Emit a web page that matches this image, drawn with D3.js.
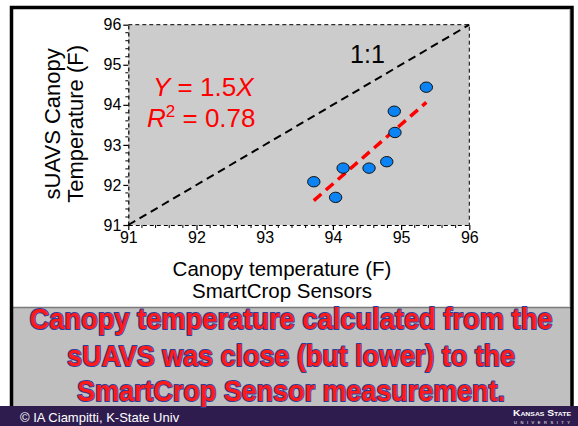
<!DOCTYPE html>
<html>
<head>
<meta charset="utf-8">
<script src="https://cdn.jsdelivr.net/npm/d3@7"></script>
<style>
  html, body { margin: 0; padding: 0; background: #fff; }
  svg { display: block; }
  text { font-family: Arial, "Liberation Sans", sans-serif; }
</style>
</head>
<body>
<div id="chart"></div>
<script>
// ---- Data ----
const sensorTemp = [93.72, 94.04, 94.15, 94.53, 94.79, 94.90, 94.91, 95.37];
const uavTemp    = [92.08, 91.69, 92.42, 92.42, 92.58, 93.84, 93.31, 94.44];
const fitX = [93.72, 95.37];
const fitY = [91.61, 94.06];
const oneToOne = [91, 96];
const xTicks = [91, 92, 93, 94, 95, 96];
const yTicks = [91, 92, 93, 94, 95, 96];
const yTitleLines = ["sUAVS Canopy", "Temperature (F)"];
const xTitleLines = ["Canopy temperature (F)", "SmartCrop Sensors"];
const r2Value = "0.78";
const oneToOneLabel = "1:1";
const messageLines = [
  "Canopy temperature calculated from the",
  "sUAVS was close (but lower) to the",
  "SmartCrop Sensor measurement."
];
const footerText = "\u00A9 IA Ciampitti, K-State Univ";

// ---- Layout ----
const W = 578, H = 426;
const svg = d3.select("#chart").append("svg").attr("width", W).attr("height", H);

svg.append("rect").attr("x", 0).attr("y", 0).attr("width", W).attr("height", H).attr("fill", "#fff");

// grey message band
svg.append("rect").attr("x", 12).attr("y", 307).attr("width", 560).attr("height", 99).attr("fill", "#c0c0c0");
svg.append("line").attr("x1", 12).attr("x2", 572).attr("y1", 307.5).attr("y2", 307.5).attr("stroke", "#7a7a7a").attr("stroke-width", 1.5);

// black frame
svg.append("path")
  .attr("d", "M11.5,406 L11.5,7.5 L572,7.5 L572,406")
  .attr("fill", "none").attr("stroke", "#000").attr("stroke-width", 3.5);
svg.append("line").attr("x1", 569.5).attr("x2", 569.5).attr("y1", 10).attr("y2", 306).attr("stroke", "#ccc").attr("stroke-width", 1);

// footer
svg.append("rect").attr("x", 0).attr("y", 406).attr("width", W).attr("height", 20).attr("fill", "#2f1c4e");
svg.append("text").attr("x", 20).attr("y", 421.5).attr("fill", "#fff").attr("font-size", 13).text(footerText);
const logo = svg.append("g").attr("fill", "#fff").attr("font-family", "'Liberation Serif', 'DejaVu Serif', serif");
logo.append("text").attr("x", 542).attr("y", 416).attr("text-anchor", "middle")
  .attr("font-size", 9).attr("font-weight", "bold")
  .attr("textLength", 58).attr("lengthAdjust", "spacingAndGlyphs")
  .style("font-variant", "small-caps").text("Kansas State");
logo.append("text").attr("x", 542).attr("y", 423.5).attr("text-anchor", "middle")
  .attr("font-size", 4).attr("textLength", 56).attr("lengthAdjust", "spacing")
  .attr("font-family", "Arial, sans-serif").text("UNIVERSITY");

// ---- Plot ----
const plot = { left: 128.3, right: 469.3, top: 24.7, bottom: 225 };
const x = d3.scaleLinear().domain([91, 96]).range([plot.left, plot.right]);
const y = d3.scaleLinear().domain([91, 96]).range([plot.bottom, plot.top]);

svg.append("rect")
  .attr("x", plot.left).attr("y", plot.top)
  .attr("width", plot.right - plot.left).attr("height", plot.bottom - plot.top)
  .attr("fill", "#cccccc");

svg.append("path")
  .attr("d", `M${plot.left},${plot.top} L${plot.right},${plot.top} L${plot.right},${plot.bottom}`)
  .attr("fill", "none").attr("stroke", "#000").attr("stroke-width", 1)
  .attr("stroke-dasharray", "4,3");

const minor = d3.range(91, 96.001, 0.2).filter(v => Math.abs(v - Math.round(v)) > 0.01);

const xAxisG = svg.append("g").attr("transform", `translate(0,${plot.bottom})`)
  .call(d3.axisBottom(x).tickValues(xTicks).tickFormat(d3.format("d")).tickSize(5).tickSizeOuter(0).tickPadding(2));
const yAxisG = svg.append("g").attr("transform", `translate(${plot.left},0)`)
  .call(d3.axisLeft(y).tickValues(yTicks).tickFormat(d3.format("d")).tickSize(5).tickSizeOuter(0).tickPadding(2));

[xAxisG, yAxisG].forEach(g => {
  g.select(".domain").attr("stroke", "#000").attr("stroke-width", 1.2).attr("stroke-dasharray", "4,3");
  g.selectAll(".tick line").attr("stroke", "#000").attr("stroke-width", 1.2);
  g.selectAll(".tick text").attr("font-size", 16).attr("fill", "#000").attr("font-family", "Arial, 'Liberation Sans', sans-serif");
});

svg.append("g").selectAll("line").data(minor).join("line")
  .attr("x1", d => x(d)).attr("x2", d => x(d))
  .attr("y1", plot.bottom).attr("y2", plot.bottom + 3)
  .attr("stroke", "#000").attr("stroke-width", 1);
svg.append("g").selectAll("line").data(minor).join("line")
  .attr("x1", plot.left - 3).attr("x2", plot.left)
  .attr("y1", d => y(d)).attr("y2", d => y(d))
  .attr("stroke", "#000").attr("stroke-width", 1);

// 1:1 line
svg.append("line")
  .attr("x1", x(oneToOne[0])).attr("y1", y(oneToOne[0]))
  .attr("x2", x(oneToOne[1])).attr("y2", y(oneToOne[1]))
  .attr("stroke", "#000").attr("stroke-width", 2).attr("stroke-dasharray", "8,5");

// regression line
svg.append("line")
  .attr("x1", x(fitX[0])).attr("y1", y(fitY[0]))
  .attr("x2", x(fitX[1])).attr("y2", y(fitY[1]))
  .attr("stroke", "#ff0000").attr("stroke-width", 3.5).attr("stroke-dasharray", "10,6");

// points
svg.append("g").selectAll("ellipse").data(sensorTemp).join("ellipse")
  .attr("cx", d => x(d)).attr("cy", (d, i) => y(uavTemp[i]))
  .attr("rx", 6.2).attr("ry", 5.2)
  .attr("fill", "#0a84f5").attr("stroke", "#111").attr("stroke-width", 1);

// annotations
svg.append("text").attr("x", 367.5).attr("y", 63).attr("text-anchor", "middle")
  .attr("font-size", 25).attr("fill", "#000").text(oneToOneLabel);

const eq = svg.append("text").attr("x", 153).attr("y", 96).attr("font-size", 26).attr("fill", "#ff0000");
eq.append("tspan").attr("font-style", "italic").text("Y");
eq.append("tspan").text(" = 1.5");
eq.append("tspan").attr("font-style", "italic").text("X");

const r2 = svg.append("text").attr("x", 147).attr("y", 127).attr("font-size", 26).attr("fill", "#ff0000");
r2.append("tspan").attr("font-style", "italic").text("R");
r2.append("tspan").attr("font-size", 17).attr("dy", -10).text("2");
r2.append("tspan").attr("dy", 10).text(" = " + r2Value);

// axis titles
const yTitle = svg.append("g").attr("transform", `translate(0,${(plot.top + plot.bottom) / 2 - 1}) rotate(-90)`);
yTitle.selectAll("text").data(yTitleLines).join("text")
  .attr("x", 0).attr("y", (d, i) => 60 + i * 22.5)
  .attr("text-anchor", "middle").attr("font-size", 22).attr("fill", "#000").text(d => d);

svg.append("g").selectAll("text").data(xTitleLines).join("text")
  .attr("x", 282).attr("y", (d, i) => 275.5 + i * 22)
  .attr("text-anchor", "middle").attr("font-size", 20.5).attr("fill", "#000").text(d => d);

// message text (drawn slightly taller to mimic the condensed slide font)
const msgWidths = [523, 448, 428];
const msgY = [329, 366, 401];
const vScale = 1.12;
svg.append("g").attr("transform", `scale(1,${vScale})`)
  .selectAll("text").data(messageLines).join("text")
  .attr("x", 291).attr("y", (d, i) => msgY[i] / vScale)
  .attr("text-anchor", "middle")
  .attr("font-family", "Lato, 'Open Sans', sans-serif").attr("font-weight", 700)
  .attr("font-size", 26)
  .attr("textLength", (d, i) => msgWidths[i]).attr("lengthAdjust", "spacingAndGlyphs")
  .attr("fill", "#ff1a1a").attr("stroke", "#2d3d9a").attr("stroke-width", 1.8)
  .attr("paint-order", "stroke").attr("stroke-linejoin", "round")
  .text(d => d);
</script>
</body>
</html>
